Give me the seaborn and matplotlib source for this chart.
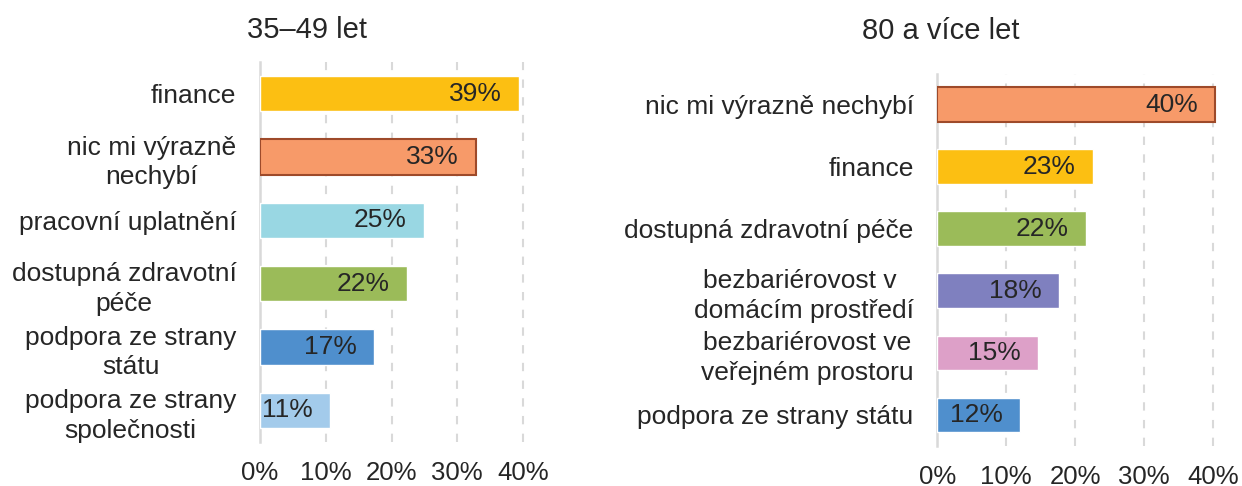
import matplotlib
matplotlib.use("Agg")
import matplotlib.pyplot as plt
import seaborn as sns
import pandas as pd

# ---- data ----
left_title = "35–49 let"
left_categories = ["finance", "nic mi výrazně\nnechybí", "pracovní uplatnění",
                   "dostupná zdravotní\npéče", "podpora ze strany\nstátu",
                   "podpora ze strany\nspolečnosti"]
left_values = [39.4, 32.9, 24.9, 22.3, 17.3, 10.7]

right_title = "80 a více let"
right_categories = ["nic mi výrazně nechybí", "finance", "dostupná zdravotní péče",
                    "bezbariérovost v \ndomácím prostředí",
                    "bezbariérovost ve\nveřejném prostoru",
                    "podpora ze strany státu"]
right_values = [40.4, 22.6, 21.6, 17.7, 14.6, 12.0]

x_ticks = [0, 10, 20, 30, 40]
x_tick_labels = ["0%", "10%", "20%", "30%", "40%"]

# ---- styles ----
C_FIN = "#FCBF12"
C_NIC = "#F79A69"
C_PRAC = "#99D7E3"
C_ZDR = "#9BBB59"
C_STAT = "#4F8FCD"
C_SPOL = "#A3CBEB"
C_DOM = "#7F80BF"
C_VER = "#DDA0C8"
left_colors = [C_FIN, C_NIC, C_PRAC, C_ZDR, C_STAT, C_SPOL]
right_colors = [C_NIC, C_FIN, C_ZDR, C_DOM, C_VER, C_STAT]
NIC_EDGE = "#9E4A2A"
TEXT = "#262626"
GRID = "#D9D9D9"

sns.set_style("white")
plt.rcParams["font.family"] = ["Liberation Sans", "DejaVu Sans"]

fig = plt.figure(figsize=(12.42, 4.86), dpi=100)
axL = fig.add_axes([260 / 1242, 1 - 442 / 486, 269.6 / 1242, 380 / 486])
axR = fig.add_axes([937.3 / 1242, 1 - 446 / 486, 282.3 / 1242, 372.4 / 486])


def draw(ax, cats, vals, colors, edge_idx):
    df = pd.DataFrame({"cat": cats, "val": vals})
    sns.barplot(data=df, y="cat", x="val", hue="cat", order=cats, hue_order=cats,
                palette=dict(zip(cats, colors)), legend=False, width=0.56,
                saturation=1, ax=ax, zorder=3)
    ax.set_xlim(0, 41)
    ax.set_ylim(len(cats) - 0.5, -0.5)
    ax.set_xticks(x_ticks)
    ax.set_xticklabels(x_tick_labels)
    ax.set_xlabel("")
    ax.set_ylabel("")
    ax.grid(axis="x", color=GRID, linestyle=(0, (4, 4.5)), linewidth=1.5, zorder=0)
    ax.grid(axis="y", visible=False)
    for s in ["top", "right", "bottom"]:
        ax.spines[s].set_visible(False)
    ax.spines["left"].set_color(GRID)
    ax.spines["left"].set_linewidth(1.8)
    ax.spines["left"].set_zorder(1)
    ax.tick_params(axis="x", length=0, pad=14, labelsize=18.5, labelcolor=TEXT)
    ax.tick_params(axis="y", length=0, pad=17, labelsize=19, labelcolor=TEXT)
    for t in ax.get_yticklabels():
        t.set_multialignment("center")
        t.set_linespacing(1.3)
    for p in ax.patches:
        w = p.get_width()
        yc = p.get_y() + p.get_height() / 2
        ax.annotate(f"{round(w)}%", xy=(w, yc), xytext=(-12.5, 0),
                    textcoords="offset points", ha="right", va="center",
                    fontsize=19, color=TEXT, zorder=5)
    # edge for "nic mi výrazně nechybí"
    ax.patches[edge_idx].set_edgecolor(NIC_EDGE)
    ax.patches[edge_idx].set_linewidth(1.5)


draw(axL, left_categories, left_values, left_colors, 1)
draw(axR, right_categories, right_values, right_colors, 0)

fig.text(247 / 1242, 1 - 30 / 486, left_title, ha="left", va="center",
         fontsize=21, color=TEXT)
fig.text(862 / 1242, 1 - 31 / 486, right_title, ha="left", va="center",
         fontsize=21, color=TEXT)

fig.savefig("out.png", dpi=100, facecolor="white")
